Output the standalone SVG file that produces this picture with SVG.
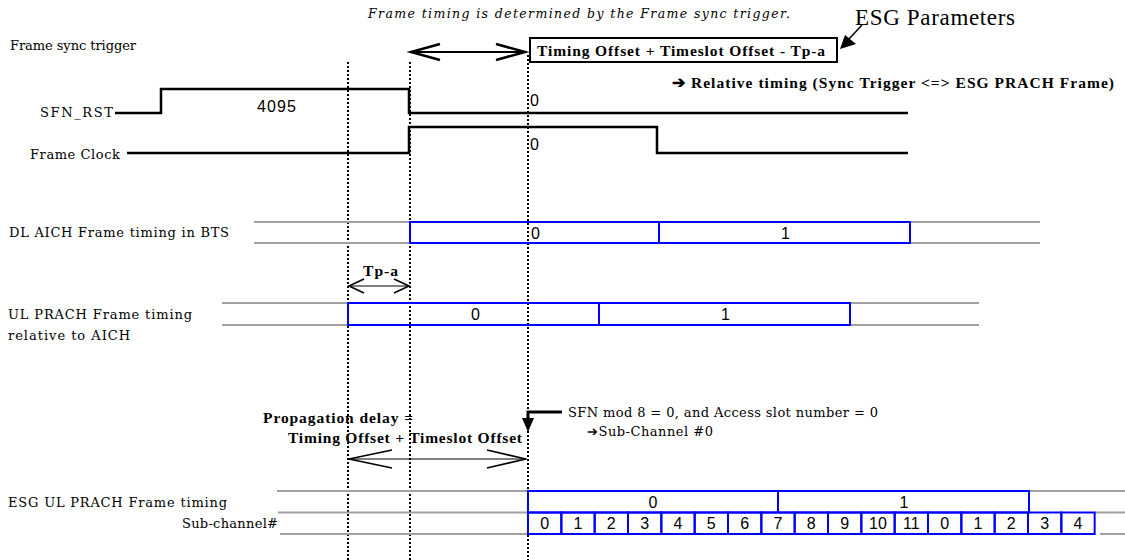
<svg xmlns="http://www.w3.org/2000/svg" width="1125" height="560" viewBox="0 0 1125 560">
<style>
.lbl{font-family:"DejaVu Serif","Liberation Serif",serif;font-size:13px;fill:#000}
.it{font-family:"DejaVu Serif","Liberation Serif",serif;font-size:12.5px;font-style:italic;fill:#000}
.bd{font-family:"Liberation Serif",serif;font-size:15.5px;font-weight:bold;fill:#000}
.tm{font-family:"Liberation Serif",serif;font-size:23px;fill:#000}
.num{font-family:"Liberation Sans Narrow","Liberation Sans",Arial,sans-serif;font-size:16px;fill:#000}
.sig{fill:none;stroke:#000;stroke-width:2.5}
.dot{fill:none;stroke:#000;stroke-width:2;stroke-dasharray:2 2}
.gray{fill:none;stroke:#a0a0a0;stroke-width:2}
.blue{fill:none;stroke:#0000ff;stroke-width:2}
.thin{fill:none;stroke:#000;stroke-width:1}
.barb{fill:none;stroke:#000;stroke-width:1.6}
.tbarb{fill:none;stroke:#000;stroke-width:2.5}
</style>

<g id="dotted-guides">
  <line class="dot" x1="348" y1="62" x2="348" y2="560"/>
  <line class="dot" x1="410" y1="62" x2="410" y2="560"/>
  <line class="dot" x1="528" y1="55" x2="528" y2="560"/>
</g>

<g id="header">
  <text class="it" x="368" y="18" textLength="422">Frame timing is determined by the Frame sync trigger.</text>
  <text class="tm" x="855" y="25" textLength="160">ESG Parameters</text>
  <text class="lbl" x="10" y="50" textLength="126">Frame sync trigger</text>
</g>

<g id="esg-box">
  <rect x="530" y="38" width="307" height="24" fill="#fff" stroke="#000" stroke-width="2"/>
  <text class="bd" x="537" y="55.5" textLength="288">Timing Offset + Timeslot Offset - Tp-a</text>
  <text class="bd" x="672" y="88" font-size="15" textLength="442">➔ Relative timing (Sync Trigger &lt;=&gt; ESG PRACH Frame)</text>
</g>

<g id="sfn-rst">
  <text class="lbl" x="40" y="117" textLength="73">SFN_RST</text>
  <polyline class="sig" points="115,113 161,113 161,89 409,89 409,113 908,113"/>
  <text class="num" x="257" y="112" font-size="17" textLength="39">4095</text>
  <text class="num" x="530" y="106">0</text>
</g>

<g id="frame-clock">
  <text class="lbl" x="30" y="159" textLength="90">Frame Clock</text>
  <polyline class="sig" points="127,153 409,153 409,127 657,127 657,153 908,153"/>
  <text class="num" x="530" y="150">0</text>
</g>

<g id="dl-aich">
  <text class="lbl" x="9" y="237" textLength="220">DL AICH Frame timing in BTS</text>
  <line class="gray" x1="254" y1="222" x2="410" y2="222"/>
  <line class="gray" x1="254" y1="243" x2="410" y2="243"/>
  <line class="gray" x1="910" y1="222" x2="1040" y2="222"/>
  <line class="gray" x1="910" y1="243" x2="1040" y2="243"/>
  <rect class="blue" x="410" y="222" width="500" height="21"/>
  <line class="blue" x1="659" y1="222" x2="659" y2="243"/>
  <text class="num" x="531" y="239">0</text>
  <text class="num" x="781" y="239">1</text>
</g>

<g id="ul-prach">
  <text class="lbl" x="8" y="319" textLength="184">UL PRACH Frame timing</text>
  <text class="lbl" x="8" y="340" textLength="122">relative to AICH</text>
  <line class="gray" x1="222" y1="303" x2="348" y2="303"/>
  <line class="gray" x1="222" y1="325" x2="348" y2="325"/>
  <line class="gray" x1="850" y1="303" x2="979" y2="303" stroke-width="3"/>
  <line class="gray" x1="850" y1="325" x2="979" y2="325"/>
  <rect class="blue" x="348" y="303" width="502" height="22"/>
  <line class="blue" x1="599" y1="303" x2="599" y2="325" stroke-width="3"/>
  <text class="num" x="471" y="320">0</text>
  <text class="num" x="721" y="320">1</text>
</g>

<g id="tp-a">
  <text class="bd" x="363" y="276" font-size="14" textLength="35">Tp-a</text>
</g>

<g id="propagation">
  <text class="bd" x="263" y="423" font-size="15" textLength="150">Propagation delay =</text>
  <text class="bd" x="288" y="443" font-size="15" textLength="234">Timing Offset + Timeslot Offset</text>
</g>

<g id="sfn-note">
  <text class="lbl" x="568" y="417" font-size="12.5" textLength="310">SFN mod 8 = 0,  and Access slot number = 0</text>
  <text class="lbl" x="587" y="436" font-size="12.5" textLength="126">➔Sub-Channel #0</text>
</g>

<g id="esg-ul-prach">
  <text class="lbl" x="8" y="507" textLength="219">ESG UL PRACH Frame timing</text>
  <text class="lbl" x="182" y="528" textLength="96">Sub-channel#</text>
  <line class="gray" x1="277" y1="491" x2="528" y2="491"/>
  <line class="gray" x1="278" y1="512.5" x2="528" y2="512.5"/>
  <line class="gray" x1="280" y1="534" x2="528" y2="534"/>
  <line class="gray" x1="1029" y1="491" x2="1125" y2="491"/>
  <line class="gray" x1="1095" y1="512.5" x2="1125" y2="512.5"/>
  <line class="gray" x1="1100" y1="534" x2="1125" y2="534"/>
  <rect class="blue" x="528" y="491" width="501" height="21.5"/>
  <line class="blue" x1="778" y1="491" x2="778" y2="512.5"/>
  <text class="num" x="653" y="508" text-anchor="middle">0</text>
  <text class="num" x="904" y="508" text-anchor="middle">1</text>
</g>

<g id="sub-channels">
  <g class="blue">
    <rect x="528" y="512.5" width="33.33" height="21.5"/>
    <rect x="561.33" y="512.5" width="33.33" height="21.5"/>
    <rect x="594.67" y="512.5" width="33.33" height="21.5"/>
    <rect x="628" y="512.5" width="33.33" height="21.5"/>
    <rect x="661.33" y="512.5" width="33.33" height="21.5"/>
    <rect x="694.67" y="512.5" width="33.33" height="21.5"/>
    <rect x="728" y="512.5" width="33.33" height="21.5"/>
    <rect x="761.33" y="512.5" width="33.33" height="21.5"/>
    <rect x="794.67" y="512.5" width="33.33" height="21.5"/>
    <rect x="828" y="512.5" width="33.33" height="21.5"/>
    <rect x="861.33" y="512.5" width="33.33" height="21.5"/>
    <rect x="894.67" y="512.5" width="33.33" height="21.5"/>
    <rect x="928" y="512.5" width="33.33" height="21.5"/>
    <rect x="961.33" y="512.5" width="33.33" height="21.5"/>
    <rect x="994.67" y="512.5" width="33.33" height="21.5"/>
    <rect x="1028" y="512.5" width="33.33" height="21.5"/>
    <rect x="1061.33" y="512.5" width="33.33" height="21.5"/>
  </g>
  <g class="num" text-anchor="middle" font-size="15">
    <text x="544.7" y="529">0</text>
    <text x="578" y="529">1</text>
    <text x="611.3" y="529">2</text>
    <text x="644.7" y="529">3</text>
    <text x="678" y="529">4</text>
    <text x="711.3" y="529">5</text>
    <text x="744.7" y="529">6</text>
    <text x="778" y="529">7</text>
    <text x="811.3" y="529">8</text>
    <text x="844.7" y="529">9</text>
    <text x="878" y="529">10</text>
    <text x="911.3" y="529">11</text>
    <text x="944.7" y="529">0</text>
    <text x="978" y="529">1</text>
    <text x="1011.3" y="529">2</text>
    <text x="1044.7" y="529">3</text>
    <text x="1078" y="529">4</text>
  </g>
</g>

<g id="connectors">
  <line x1="410" y1="52" x2="526" y2="52" stroke="#000" stroke-width="2"/>
  <polyline class="tbarb" points="440,44 411,52 440,60"/>
  <polyline class="tbarb" points="496,44 525,52 496,60"/>
  <line x1="862" y1="25" x2="849" y2="39" stroke="#000" stroke-width="1.5"/>
  <polygon points="840,49 845,35 856,44" fill="#000"/>
  <line class="thin" x1="348" y1="286" x2="410" y2="286"/>
  <polyline class="barb" points="364,279 349,286 364,293"/>
  <polyline class="barb" points="394,279 409,286 394,293"/>
  <line class="thin" x1="348" y1="459" x2="527" y2="459"/>
  <polyline class="barb" points="392,450 349,459 392,468"/>
  <polyline class="barb" points="487,450 526,459 487,468"/>
  <polyline points="562,412 528,412 528,421" fill="none" stroke="#000" stroke-width="3"/>
  <polygon points="522,418 534,418 528,432" fill="#000"/>
</g>
</svg>
